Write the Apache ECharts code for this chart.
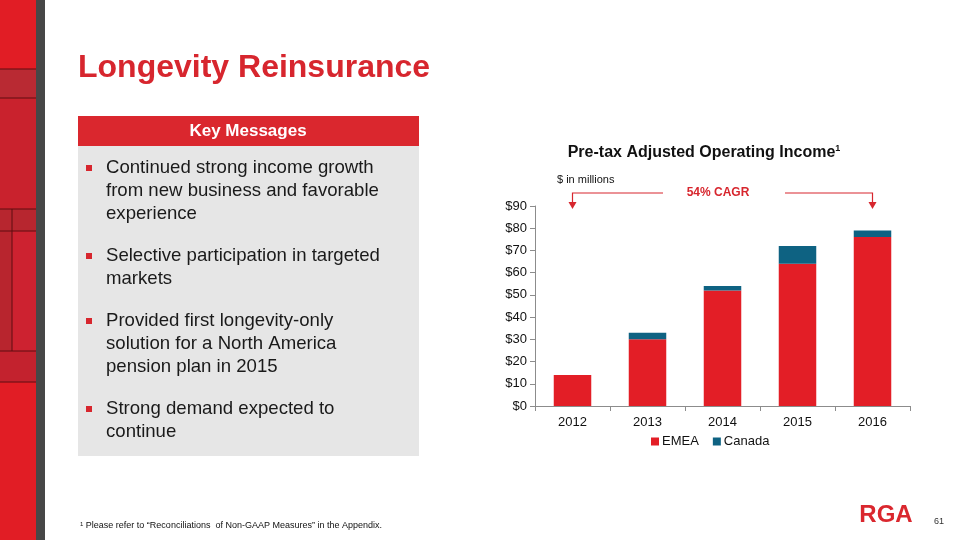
<!DOCTYPE html>
<html>
<head>
<meta charset="utf-8">
<script src="https://cdn.jsdelivr.net/npm/echarts@6/dist/echarts.min.js"></script>
<style>
html,body{margin:0;padding:0;background:#fff;}
#c{width:960px;height:540px;}
</style>
</head>
<body>
<div id="c"></div>
<script>
const categories = ['2012', '2013', '2014', '2015', '2016'];
const emea = [14, 30, 52, 64, 76];
const canada = [0, 3, 2, 8, 3];
const yTicks = [0, 10, 20, 30, 40, 50, 60, 70, 80, 90];
const bullets = [
  ['Continued strong income growth', 'from new business and favorable', 'experience'],
  ['Selective participation in targeted', 'markets'],
  ['Provided first longevity-only', 'solution for a North America', 'pension plan in 2015'],
  ['Strong demand expected to', 'continue']
];

const FONT = '"Liberation Sans", Arial, sans-serif';
const RED = '#E31E26';
const TEAL = '#0E6282';
const chart = echarts.init(document.getElementById('c'), null, {renderer: 'canvas'});

// static slide graphics
const g = [];
// left decorative strip
g.push({type:'rect', shape:{x:0,y:0,width:36,height:540}, style:{fill:'#E11D25'}, silent:true});
g.push({type:'rect', shape:{x:0,y:69,width:36,height:29}, style:{fill:'#B92A33'}, silent:true});
g.push({type:'rect', shape:{x:0,y:98,width:36,height:111}, style:{fill:'#C9222D'}, silent:true});
g.push({type:'rect', shape:{x:0,y:209,width:36,height:22}, style:{fill:'#B7262F'}, silent:true});
g.push({type:'rect', shape:{x:0,y:231,width:12,height:120}, style:{fill:'#B8252E'}, silent:true});
g.push({type:'rect', shape:{x:12,y:231,width:24,height:120}, style:{fill:'#CD2230'}, silent:true});
g.push({type:'rect', shape:{x:0,y:351,width:36,height:31}, style:{fill:'#C3222E'}, silent:true});
[69,98,209,231,351,382].forEach(y=>{
  g.push({type:'line', shape:{x1:0,y1:y,x2:36,y2:y}, style:{stroke:'#5E0C10',lineWidth:1}, silent:true});
});
g.push({type:'line', shape:{x1:12,y1:209,x2:12,y2:351}, style:{stroke:'#5E0C10',lineWidth:1}, silent:true});
g.push({type:'rect', shape:{x:36,y:0,width:9,height:540}, style:{fill:'#474747'}, silent:true});

// main title
g.push({type:'text', x:78, y:68, style:{text:'Longevity Reinsurance', font:'bold 32px '+FONT, fill:'#D7262E', textVerticalAlign:'middle'}});

// key messages box
g.push({type:'rect', shape:{x:78,y:116,width:341,height:30}, style:{fill:'#DA272E'}});
g.push({type:'rect', shape:{x:78,y:146,width:341,height:310}, style:{fill:'#E6E6E6'}});
g.push({type:'text', x:248, y:131, style:{text:'Key Messages', font:'bold 17px '+FONT, fill:'#fff', textAlign:'center', textVerticalAlign:'middle'}});
let yy = 168;
bullets.forEach(b=>{
  g.push({type:'rect', shape:{x:86,y:yy-3,width:6,height:6}, style:{fill:'#D7262E'}});
  b.forEach(line=>{
    g.push({type:'text', x:106, y:yy, style:{text:line, font:'18.6px '+FONT, fill:'#1a1a1a', textVerticalAlign:'middle'}});
    yy += 23;
  });
  yy += 19;
});

// chart captions
g.push({type:'text', x:704, y:153, style:{
  text:'{t|Pre-tax Adjusted Operating Income}{s|1}',
  rich:{t:{font:'bold 16px '+FONT, fill:'#111'}, s:{font:'bold 9px '+FONT, fill:'#111', verticalAlign:'top', padding:[0,0,8,0]}},
  textAlign:'center', textVerticalAlign:'middle'}});
g.push({type:'text', x:557, y:180, style:{text:'$ in millions', font:'11px '+FONT, fill:'#111', textVerticalAlign:'middle'}});
g.push({type:'text', x:718, y:193, style:{text:'54% CAGR', font:'bold 12px '+FONT, fill:'#D7262E', textAlign:'center', textVerticalAlign:'middle'}});

// footnote, logo, page no.
g.push({type:'text', x:80, y:526, style:{text:'{s|1} Please refer to \u201CReconciliations  of Non-GAAP Measures\u201D in the Appendix.',
  rich:{s:{font:'6px '+FONT, fill:'#111', verticalAlign:'top'}}, font:'9px '+FONT, fill:'#111', textVerticalAlign:'middle'}});
g.push({type:'text', x:886, y:515, style:{text:'RGA', font:'bold 24px '+FONT, fill:'#DA272E', textAlign:'center', textVerticalAlign:'middle'}});
g.push({type:'text', x:934, y:522, style:{text:'61', font:'9px '+FONT, fill:'#333', textVerticalAlign:'middle'}});

const option = {
  animation:false,
  textStyle:{fontFamily:FONT},
  grid:{left:535, right:50, top:206, bottom:134, containLabel:false},
  legend:{
    data:['EMEA','Canada'], left:646, top:430, icon:'rect', itemWidth:8, itemHeight:8, itemGap:14,
    textStyle:{fontSize:13, color:'#111', fontFamily:FONT, padding:[0,0,0,-2]}
  },
  xAxis:{
    type:'category', data:categories,
    axisLine:{lineStyle:{color:'#8c8c8c'}},
    axisTick:{show:true, alignWithLabel:false, lineStyle:{color:'#8c8c8c'}},
    axisLabel:{fontSize:13, color:'#111', margin:10}
  },
  yAxis:{
    type:'value', min:yTicks[0], max:yTicks[yTicks.length-1], interval:10,
    axisLine:{show:true, lineStyle:{color:'#8c8c8c'}},
    axisTick:{show:true, lineStyle:{color:'#8c8c8c'}},
    splitLine:{show:false},
    axisLabel:{fontSize:13, color:'#111', margin:8, formatter:v=>'$'+v}
  },
  series:[
    {name:'EMEA', type:'bar', stack:'a', data:emea, barWidth:'50%', itemStyle:{color:RED}},
    {name:'Canada', type:'bar', stack:'a', data:canada, barWidth:'50%', itemStyle:{color:TEAL}}
  ],
  graphic:g
};
chart.setOption(option);

// CAGR arrows anchored to first and last categories
const x0 = chart.convertToPixel({xAxisIndex:0}, categories[0]);
const x1 = chart.convertToPixel({xAxisIndex:0}, categories[categories.length-1]);
const ly = 193, tipY = 209;
const arrows = [
  {type:'polyline', shape:{points:[[663,ly],[x0,ly],[x0,tipY-6]]}, style:{stroke:'#D7262E', lineWidth:1.2, fill:null}},
  {type:'polygon', shape:{points:[[x0-4,tipY-7],[x0+4,tipY-7],[x0,tipY]]}, style:{fill:'#D7262E'}},
  {type:'polyline', shape:{points:[[785,ly],[x1,ly],[x1,tipY-6]]}, style:{stroke:'#D7262E', lineWidth:1.2, fill:null}},
  {type:'polygon', shape:{points:[[x1-4,tipY-7],[x1+4,tipY-7],[x1,tipY]]}, style:{fill:'#D7262E'}}
];
chart.setOption({graphic:g.concat(arrows)}, {replaceMerge:['graphic']});
</script>
</body>
</html>
